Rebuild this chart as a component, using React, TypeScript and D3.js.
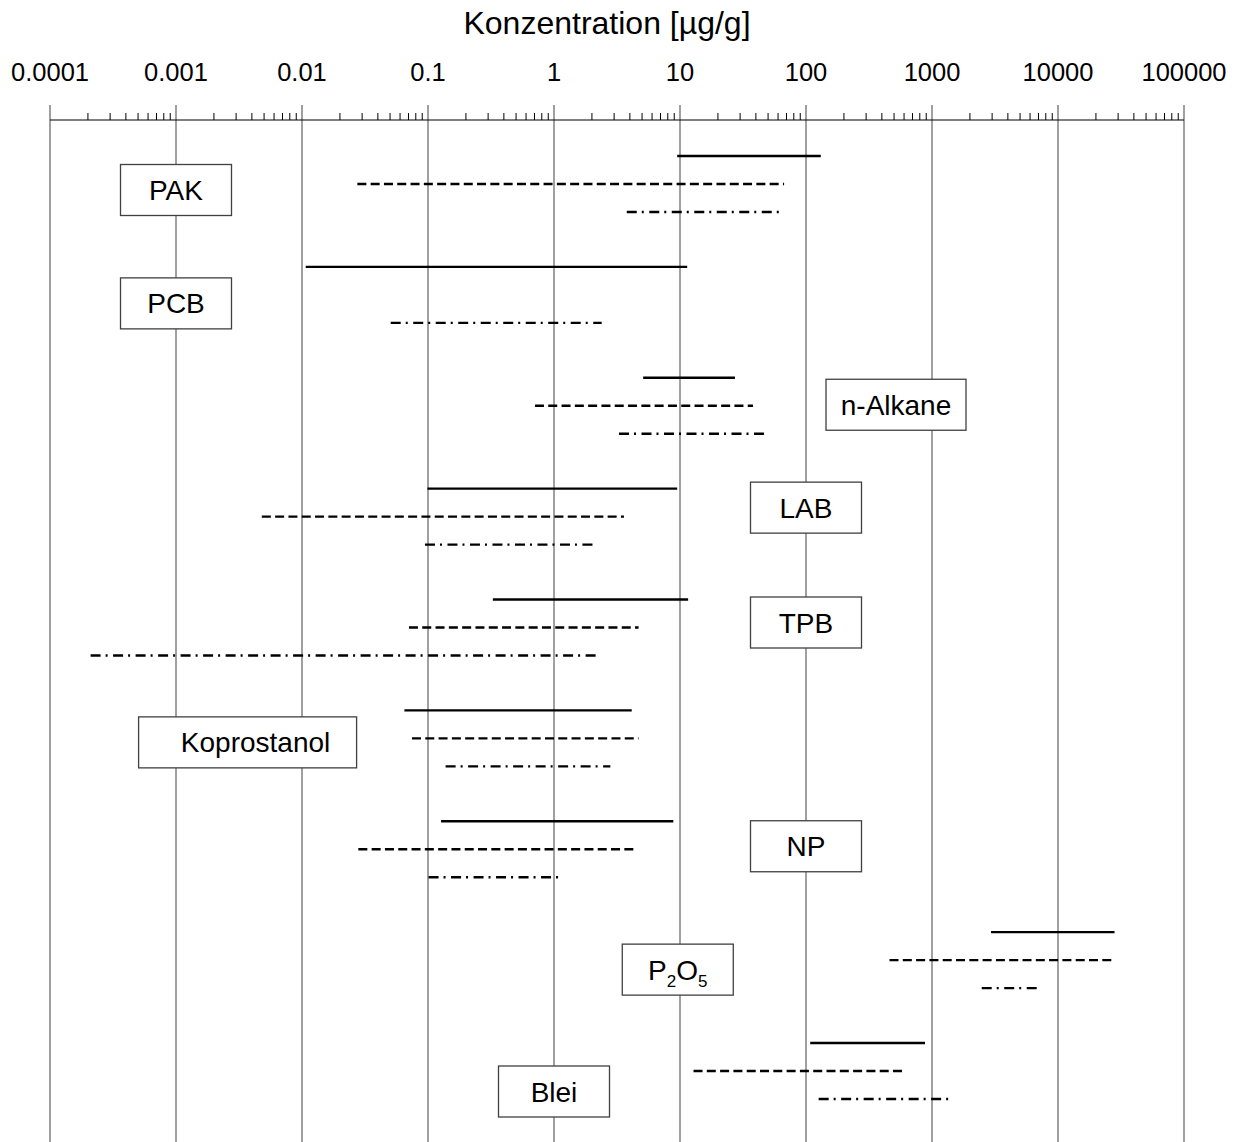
import React from "react";
import * as d3 from "d3";

// ---- data ----
const categories = ["PAK", "PCB", "n-Alkane", "LAB", "TPB", "Koprostanol", "NP", "P2O5", "Blei"];
// solid line ranges
const solidMin = [9.5, 0.0107, 5.1, 0.099, 0.327, 0.065, 0.127, 2940, 108];
const solidMax = [131, 11.4, 27.3, 9.5, 11.6, 4.14, 8.85, 28100, 880];
// dashed line ranges
const dashedMin: (number | null)[] = [0.0275, null, 0.706, 0.0048, 0.0706, 0.0746, 0.028, 460, 12.8];
const dashedMax: (number | null)[] = [67, null, 38, 3.59, 4.69, 4.69, 4.54, 28600, 622];
// dash-dot line ranges
const dashDotMin = [3.78, 0.0506, 3.28, 0.0946, 0.00021, 0.138, 0.101, 2480, 126];
const dashDotMax = [63, 2.39, 47.3, 2.08, 2.17, 2.8, 1.1, 6790, 1390];

const tickValues = [0.0001, 0.001, 0.01, 0.1, 1, 10, 100, 1000, 10000, 100000];
const tickLabels = ["0.0001", "0.001", "0.01", "0.1", "1", "10", "100", "1000", "10000", "100000"];
const axisTitle = "Konzentration [µg/g]";

// label box anchors (value at box centre) - annotation layout
const labelAt = [0.001, 0.001, 518, 100, 100, 0.0037, 100, 9.6, 1.0];
const labelDy = [34, 36.5, 27, 19, 23, 32, 25, 37.5, 48.5];
const labelW = [111, 111, 140, 111, 111, 218, 111, 111, 111];
const labelTextDx = [0, 0, 0, 0, 0, 8, 0, 0, 0];

const W = 1237;
const H = 1142;
const FONT = "'Liberation Sans', Arial, Helvetica, sans-serif";

export default function App() {
  const x = d3.scaleLog().domain([0.0001, 100000]).range([50, 1184]);
  const yGroup = d3.scaleLinear().domain([0, categories.length - 1]).range([156, 1043]);
  const rowOffset = [0, 28, 56];
  const styles = [
    { dash: undefined as string | undefined, min: solidMin as (number | null)[], max: solidMax as (number | null)[] },
    { dash: "9,4.3", min: dashedMin, max: dashedMax },
    { dash: "10,5,2,5.5", min: dashDotMin as (number | null)[], max: dashDotMax as (number | null)[] },
  ];

  const minorTicks: number[] = [];
  for (let e = -4; e < 5; e++) {
    for (let m = 2; m <= 9; m++) minorTicks.push(m * Math.pow(10, e));
  }

  const axisY = 120;

  return (
    <svg
      width={W}
      height={H}
      style={{ position: "absolute", left: 0, top: 0, background: "#fff" }}
      fontFamily={FONT}
    >
      <rect x={0} y={0} width={W} height={H} fill="#fff" />
      {/* title */}
      <text x={607} y={34} fontSize={32} textAnchor="middle" fill="#000">
        {axisTitle}
      </text>
      {/* tick labels */}
      {tickValues.map((v, i) => (
        <text key={"tl" + i} x={x(v)} y={81} fontSize={25.5} textAnchor="middle" fill="#000">
          {tickLabels[i]}
        </text>
      ))}
      {/* gridlines / major ticks */}
      {tickValues.map((v, i) => (
        <line key={"g" + i} x1={x(v)} x2={x(v)} y1={105} y2={H} stroke="#808080" strokeWidth={1.5} />
      ))}
      {/* minor ticks */}
      {minorTicks.map((v, i) => (
        <line key={"m" + i} x1={x(v)} x2={x(v)} y1={113} y2={axisY} stroke="#000" strokeWidth={1} />
      ))}
      <line x1={x(0.0001)} x2={x(100000)} y1={axisY} y2={axisY} stroke="#000" strokeWidth={1.2} />

      {/* data ranges */}
      {categories.map((c, gi) =>
        styles.map((s, si) => {
          const a = s.min[gi];
          const b = s.max[gi];
          if (a == null || b == null) return null;
          const yy = yGroup(gi) + rowOffset[si];
          return (
            <line
              key={c + si}
              x1={x(a)}
              x2={x(b)}
              y1={yy}
              y2={yy}
              stroke="#000"
              strokeWidth={2.4}
              strokeDasharray={s.dash}
            />
          );
        })
      )}

      {/* label boxes */}
      {categories.map((c, gi) => {
        const cx = x(labelAt[gi]);
        const cy = yGroup(gi) + labelDy[gi];
        const w = labelW[gi];
        const h = 51;
        const tx = cx + labelTextDx[gi];
        const ty = cy + 10;
        return (
          <g key={"lb" + c}>
            <rect x={cx - w / 2} y={cy - h / 2} width={w} height={h} fill="#fff" stroke="#404040" strokeWidth={1.3} />
            {c === "P2O5" ? (
              <text x={tx} y={ty} fontSize={28} textAnchor="middle" fill="#000">
                P
                <tspan fontSize={17} dy={7}>2</tspan>
                <tspan dy={-7}>O</tspan>
                <tspan fontSize={17} dy={7}>5</tspan>
              </text>
            ) : (
              <text x={tx} y={ty} fontSize={28} textAnchor="middle" fill="#000">
                {c}
              </text>
            )}
          </g>
        );
      })}
    </svg>
  );
}
